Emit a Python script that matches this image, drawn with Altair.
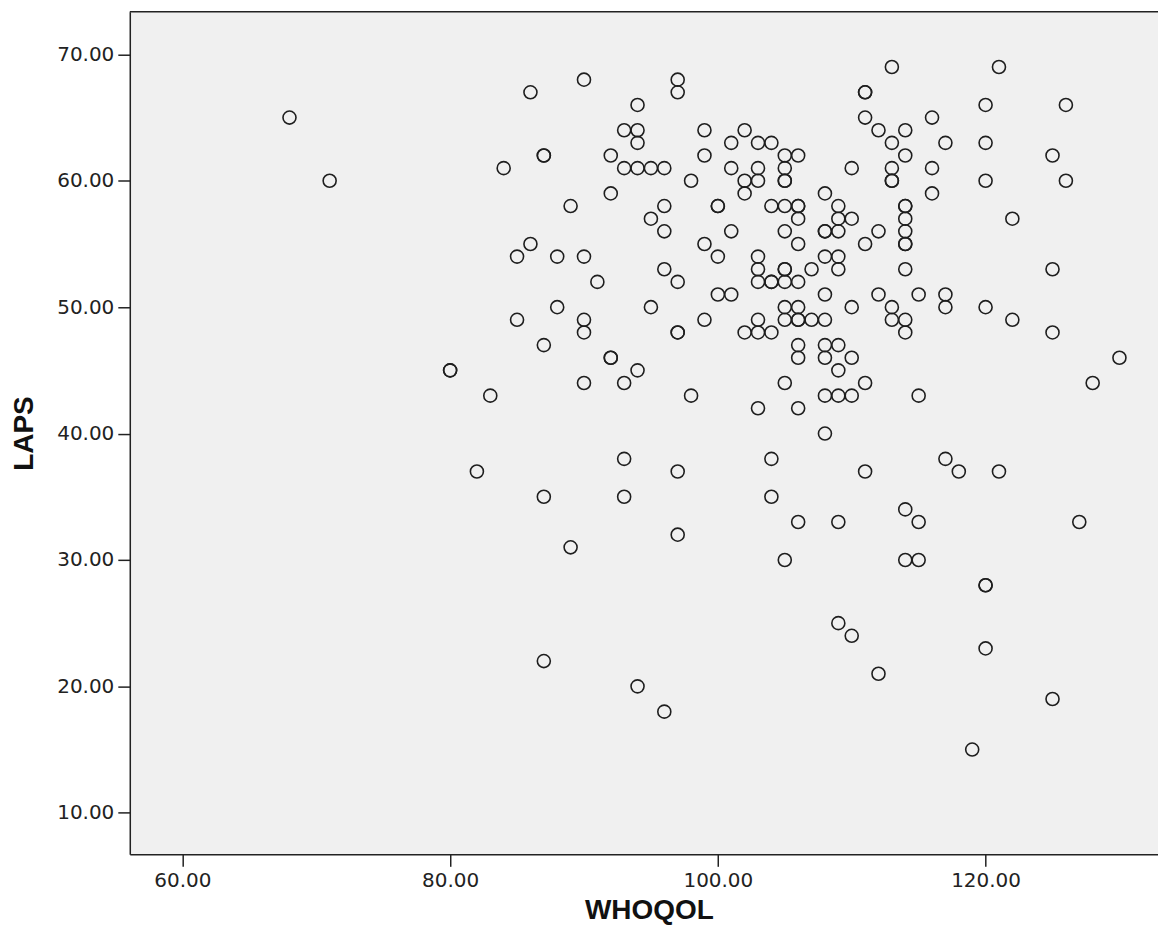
import altair as alt
import pandas as pd

# WHOQOL (x) and LAPS (y) scores
whoqol = [68, 71, 80, 80, 82, 83, 84, 85, 85, 86, 86, 87, 87, 87, 87, 87, 88, 88, 89, 89,
          90, 90, 90, 90, 90, 91, 92, 92, 92, 92, 93, 93, 93, 93, 93, 94, 94, 94, 94, 94,
          94, 95, 95, 95, 96, 96, 96, 96, 96, 97, 97, 97, 97, 97, 97, 97, 98, 98, 99, 99,
          99, 99, 100, 100, 100, 100, 101, 101, 101, 101, 102, 102, 102, 102, 103, 103, 103, 103, 103, 103,
          103, 103, 103, 104, 104, 104, 104, 104, 104, 104, 105, 105, 105, 105, 105, 105, 105, 105, 105, 105,
          105, 105, 105, 106, 106, 106, 106, 106, 106, 106, 106, 106, 106, 106, 106, 106, 107, 107, 108, 108,
          108, 108, 108, 108, 108, 108, 108, 108, 109, 109, 109, 109, 109, 109, 109, 109, 109, 109, 110, 110,
          110, 110, 110, 110, 111, 111, 111, 111, 111, 111, 112, 112, 112, 112, 113, 113, 113, 113, 113, 113,
          113, 114, 114, 114, 114, 114, 114, 114, 114, 114, 114, 114, 114, 114, 115, 115, 115, 115, 116, 116,
          116, 117, 117, 117, 117, 118, 119, 120, 120, 120, 120, 120, 120, 120, 121, 121, 122, 122, 125, 125,
          125, 125, 126, 126, 127, 128, 130]
laps = [65, 60, 45, 45, 37, 43, 61, 54, 49, 67, 55, 62, 62, 47, 35, 22, 54, 50, 58, 31,
        68, 54, 49, 48, 44, 52, 62, 59, 46, 46, 64, 61, 44, 38, 35, 66, 64, 63, 61, 45,
        20, 61, 57, 50, 61, 58, 56, 53, 18, 68, 67, 52, 48, 48, 37, 32, 60, 43, 64, 62,
        55, 49, 58, 58, 54, 51, 63, 61, 56, 51, 64, 60, 59, 48, 63, 61, 60, 54, 53, 52,
        49, 48, 42, 63, 58, 52, 52, 48, 38, 35, 62, 61, 60, 60, 58, 56, 53, 53, 52, 50,
        49, 44, 30, 62, 58, 58, 57, 55, 52, 50, 49, 49, 47, 46, 42, 33, 53, 49, 59, 56,
        56, 54, 51, 49, 47, 46, 43, 40, 58, 57, 56, 54, 53, 47, 45, 43, 33, 25, 61, 57,
        50, 46, 43, 24, 67, 67, 65, 55, 44, 37, 64, 56, 51, 21, 69, 63, 61, 60, 60, 50,
        49, 64, 62, 58, 58, 57, 56, 55, 55, 53, 49, 48, 34, 30, 51, 43, 33, 30, 65, 61,
        59, 63, 51, 50, 38, 37, 15, 66, 63, 60, 50, 28, 28, 23, 69, 37, 57, 49, 62, 53,
        48, 19, 66, 60, 33, 44, 46]

x_ticks = [60, 80, 100, 120]
y_ticks = [10, 20, 30, 40, 50, 60, 70]
x_domain = [56.07, 132.88]
y_domain = [6.71, 73.37]

df = pd.DataFrame({"WHOQOL": whoqol, "LAPS": laps})

W, H = 1030, 844
ink = "#222222"

points = alt.Chart(df).mark_point(
    shape="circle", filled=False, size=170, strokeWidth=1.6, color="#1e1e1e", opacity=1
).encode(
    x=alt.X(
        "WHOQOL:Q",
        scale=alt.Scale(domain=x_domain, nice=False, zero=False),
        axis=alt.Axis(
            values=x_ticks, format=".2f", grid=False, title="WHOQOL",
            domainColor=ink, domainWidth=1.5, tickColor=ink, tickWidth=1.5, tickSize=12,
            labelFont="DejaVu Sans", labelFontSize=20, labelColor=ink, labelPadding=4,
            titleFont="Liberation Sans", titleFontSize=28, titleFontWeight="bold",
            titleColor="#111111", titleX=520, titleY=64, titleBaseline="alphabetic",
            titleAlign="center",
        ),
    ),
    y=alt.Y(
        "LAPS:Q",
        scale=alt.Scale(domain=y_domain, nice=False, zero=False),
        axis=alt.Axis(
            values=y_ticks, format=".2f", grid=False, title="LAPS",
            domainColor=ink, domainWidth=1.5, tickColor=ink, tickWidth=1.5, tickSize=12,
            labelFont="DejaVu Sans", labelFontSize=20, labelColor=ink, labelPadding=4,
            titleFont="Liberation Sans", titleFontSize=28, titleFontWeight="bold",
            titleColor="#111111", titleAngle=270, titleX=-105, titleY=422,
            titleAlign="center", titleBaseline="middle",
        ),
    ),
)

top_border = alt.Chart(pd.DataFrame({"v": [0]})).mark_rule(
    color=ink, strokeWidth=1.5
).encode(x=alt.value(0), x2=alt.value(W), y=alt.value(0))

chart = alt.layer(points, top_border).properties(
    width=W,
    height=H,
    padding={"left": 122, "top": 3, "right": 0, "bottom": 71},
    autosize=alt.AutoSizeParams(type="none"),
).configure_view(stroke=None, fill="#f0f0f0")

chart.save("out.html", embed_options={"renderer": "svg", "actions": False})
